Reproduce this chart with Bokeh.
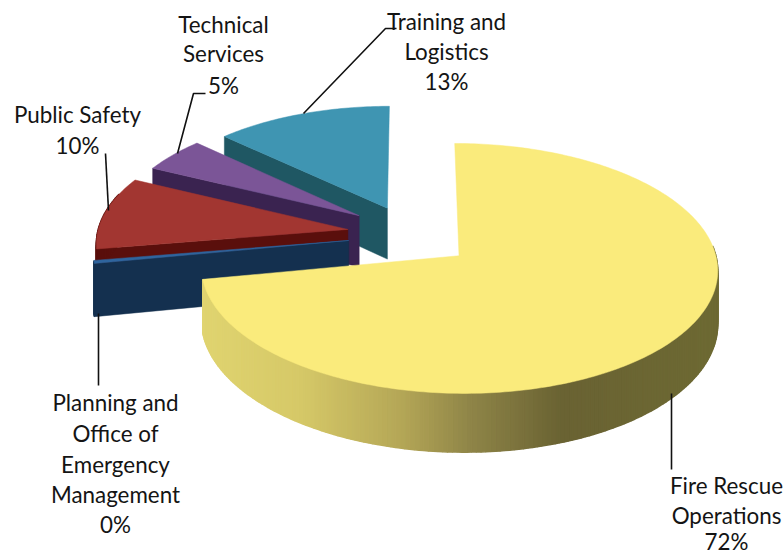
import numpy as np
from bokeh.plotting import figure
from bokeh.embed import file_html
from bokeh.resources import INLINE
from bokeh.core.properties import value

# data
categories = ["Fire Rescue Operations", "Planning and Office of Emergency Management",
              "Public Safety", "Technical Services", "Training and Logistics"]
shares = [72.0, 0.4, 9.8, 4.8, 13.0]

# style
top_colors = ["#FAEB7C", "#2F659E", "#A23631", "#7B5597", "#3F95B2"]
side_colors = ["#7A7038", "#14304F", "#5A0F0C", "#3A2350", "#1F5763"]
yellow_rim_x = [204, 300, 400, 470, 560, 720]
yellow_rim_rgb = [(224, 212, 112), (214, 201, 104), (181, 167, 87), (143, 133, 72), (106, 99, 51), (110, 106, 51)]
nudge_x = [0, -5, -6, -5, -2]
nudge_y = [0, -2, -4, -6, -4]
radius_scale = [1.0, 0.996, 0.99, 0.967, 0.97]

CX, CY, R, A, K, DEPTH, EXPLODE = 412.0, 237.0, 253.0, 120.0, 0.10, 52.0, 0.235


def proj(X, Y, z=0.0):
    s = 1.0 / (1.0 + K * Y)
    return CX + R * X * s, CY - A * Y * s + DEPTH * z * s


p = figure(width=783, height=554, x_range=(0, 783), y_range=(554, 0), output_backend="svg",
           toolbar_location=None, min_border=0, outline_line_color=None)
p.axis.visible = False
p.grid.visible = False
p.background_fill_color = "white"

edges = np.concatenate([[0], np.cumsum(shares)]) / sum(shares) * 2 * np.pi

# painter order: back slices first, the big front slice last
for i in [4, 3, 2, 1, 0]:
    a0, a1 = edges[i], edges[i + 1]
    mid = (a0 + a1) / 2
    ox, oy = EXPLODE * np.sin(mid), EXPLODE * np.cos(mid)
    rs = radius_scale[i]

    def q(X, Y, z=0.0):
        sx, sy = proj(X, Y, z)
        return sx + nudge_x[i], sy + nudge_y[i]

    ax, ay = q(ox, oy)
    abx, aby = q(ox, oy, 1)
    # the radial face towards the viewer; the big slice shows none
    if i != 0:
        ex, ey = q(ox + rs * np.sin(a0), oy + rs * np.cos(a0))
        fx, fy = q(ox + rs * np.sin(a0), oy + rs * np.cos(a0), 1)
        p.patch([ax, ex, fx, abx], [ay, ey, fy, aby], fill_color=side_colors[i],
                line_color=side_colors[i], line_width=0.5)
    # rim
    t = np.linspace(a0, a1, max(4, int((a1 - a0) * 60)))
    tx, ty = q(ox + rs * np.sin(t), oy + rs * np.cos(t), 0)
    bx, by = q(ox + rs * np.sin(t), oy + rs * np.cos(t), 1)
    xs, ys, cs = [], [], []
    for j in range(len(tx) - 1):
        if np.cos(t[j]) > (0.08 if i == 0 else 0.3):  # rear part of the rim stays hidden
            continue
        xs.append([tx[j], tx[j + 1], bx[j + 1], bx[j]])
        ys.append([ty[j], ty[j + 1], by[j + 1], by[j]])
        if i == 0:
            xm = (tx[j] + tx[j + 1]) / 2
            rgb = [int(np.interp(xm, yellow_rim_x, [c[k] for c in yellow_rim_rgb])) for k in range(3)]
            cs.append("#%02x%02x%02x" % tuple(rgb))
        else:
            cs.append(side_colors[i])
    if xs:
        p.patches(xs, ys, fill_color=cs, line_color=cs, line_width=1.5)
    # top
    p.patch(np.r_[ax, tx], np.r_[ay, ty], fill_color=top_colors[i], line_color=top_colors[i], line_width=0.5)

# leaders
leaders = [([303, 385, 396], [113, 28, 28]), ([177, 193, 205], [153, 93, 93]),
           ([108, 105], [210, 153]), ([98, 98], [313, 385]), ([671, 671], [393, 469])]
for lx, ly in leaders:
    p.line(lx, ly, line_color="#111111", line_width=1.6)

# labels
labels = [("Technical", 223, 24), ("Services", 223, 53), ("5%", 223, 85),
          ("Training and", 446, 21), ("Logistics", 446, 51), ("13%", 446, 81),
          ("Public Safety", 77, 114), ("10%", 77, 145),
          ("Planning and", 115, 402), ("Office of", 115, 433), ("Emergency", 115, 464),
          ("Management", 115, 494), ("0%", 115, 524),
          ("Fire Rescue", 726, 485), ("Operations", 726, 515), ("72%", 726, 541)]
p.text([l[1] for l in labels], [l[2] for l in labels], text=[l[0] for l in labels],
       text_font=value("Lato"), text_font_size="22.4px", text_align="center",
       text_baseline="middle", text_color="#141414")

open("out.html", "w").write(file_html(p, INLINE))
